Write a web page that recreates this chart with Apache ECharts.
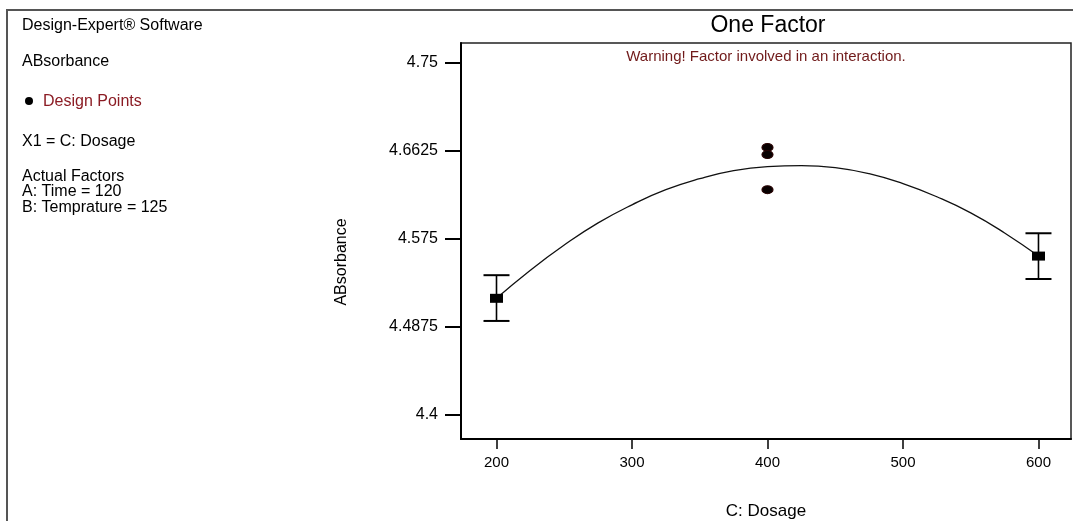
<!DOCTYPE html>
<html><head><meta charset="utf-8">
<script src="https://cdn.jsdelivr.net/npm/echarts@6/dist/echarts.min.js"></script>
<style>html,body{margin:0;padding:0;background:#fff}#c{width:1073px;height:521px}</style>
</head><body><div id="c"></div>
<script>
// Fitted model curve
const curveX = [200,225,250,275,300,325,350,375,400,425,450,475,500,525,550,575,600];
const curveY = [4.516,4.544,4.569,4.591,4.609,4.624,4.635,4.643,4.647,4.648,4.646,4.640,4.630,4.617,4.601,4.581,4.558];
// Design points at 400
const designX = [400,400,400];
const designY = [4.666,4.659,4.624];
// Mean squares and LSD bars
const meanX = [200,600];
const meanY = [4.516,4.558];
const barLow = [4.4935,4.5352];
const barHigh = [4.5390,4.5807];
// Ticks
const xTicks = [200,300,400,500,600];
const yTicks = [4.4,4.4875,4.575,4.6625,4.75];
const yTickLabels = ['4.4','4.4875','4.575','4.6625','4.75'];

const FONT = '"Liberation Sans", Arial, sans-serif';
const chart = echarts.init(document.getElementById('c'), null, {renderer:'canvas'});

function leftText(txt, y, color, x) {
  return {type:'text', x: x||22, y: y, style:{text:txt, fill: color||'#000', font:'16px ' + FONT, verticalAlign:'middle', align:'left'}};
}

const option = {
  animation:false,
  backgroundColor:'#fff',
  grid:{left:461, right:2, top:43, bottom:82, containLabel:false, outerBoundsMode:'none',
        show:true, borderColor:'#222', borderWidth:1.5, backgroundColor:'transparent'},
  xAxis:{
    type:'value', min:173.8, max:624,
    name:'C: Dosage', nameLocation:'middle', nameGap:64,
    nameTextStyle:{fontFamily:FONT, fontSize:17, color:'#000'},
    axisLine:{show:true, onZero:false, lineStyle:{color:'#000', width:2}},
    axisTick:{show:true, customValues:xTicks, length:10, lineStyle:{color:'#000', width:1.5}},
    axisLabel:{customValues:xTicks, margin:16, fontFamily:FONT, fontSize:15, color:'#000'},
    splitLine:{show:false}
  },
  yAxis:{
    type:'value', min:4.3761, max:4.7699,
    axisLine:{show:true, onZero:false, lineStyle:{color:'#000', width:2}},
    axisTick:{show:true, customValues:yTicks, length:16, lineStyle:{color:'#000', width:2}},
    axisLabel:{customValues:yTicks, margin:23, fontFamily:FONT, fontSize:16, color:'#000',
      formatter:function(v){const i=yTicks.findIndex(t=>Math.abs(t-v)<1e-6);return i>=0?yTickLabels[i]:'';}},
    splitLine:{show:false}
  },
  series:[
    {type:'line', smooth:true, showSymbol:false, symbol:'none', data:curveX.map((x,i)=>[x,curveY[i]]),
     lineStyle:{color:'#111', width:1.3}, z:2},
    {type:'custom', data:meanX.map((x,i)=>[x,barLow[i],barHigh[i]]), z:3,
     renderItem:function(params, api){
       const x=api.value(0), lo=api.value(1), hi=api.value(2);
       const pH=api.coord([x,hi]), pL=api.coord([x,lo]);
       const hw=13;
       return {type:'group', children:[
         {type:'line', shape:{x1:pH[0],y1:pH[1],x2:pL[0],y2:pL[1]}, style:{stroke:'#000', lineWidth:1.6}},
         {type:'line', shape:{x1:pH[0]-hw,y1:pH[1],x2:pH[0]+hw,y2:pH[1]}, style:{stroke:'#000', lineWidth:2}},
         {type:'line', shape:{x1:pL[0]-hw,y1:pL[1],x2:pL[0]+hw,y2:pL[1]}, style:{stroke:'#000', lineWidth:2}}
       ]};
     }},
    {type:'scatter', data:meanX.map((x,i)=>[x,meanY[i]]), symbol:'rect', symbolSize:[13,9],
     itemStyle:{color:'#000', opacity:1}, z:4},
    {type:'scatter', data:designX.map((x,i)=>[x,designY[i]]), symbol:'circle', symbolSize:[11,8],
     itemStyle:{color:'#080000', borderColor:'#260000', borderWidth:1, opacity:1}, z:5}
  ],
  graphic:[
    {type:'line', shape:{x1:7,y1:10,x2:7,y2:521}, style:{stroke:'#555', lineWidth:2}},
    {type:'line', shape:{x1:6,y1:10,x2:1073,y2:10}, style:{stroke:'#555', lineWidth:2}},
    leftText('Design-Expert\u00AE Software', 26),
    leftText('ABsorbance', 62),
    {type:'circle', shape:{cx:29, cy:101, r:4}, style:{fill:'#000'}},
    leftText('Design Points', 102, '#8b1c24', 43),
    leftText('X1 = C: Dosage', 142),
    leftText('Actual Factors', 177),
    leftText('A: Time = 120', 192),
    leftText('B: Temprature = 125', 208),
    {type:'text', x:768, y:26, style:{text:'One Factor', fill:'#000', font:'23px ' + FONT, align:'center', verticalAlign:'middle'}},
    {type:'text', x:766, y:57, style:{text:'Warning! Factor involved in an interaction.', fill:'#701a1a', font:'15px ' + FONT, align:'center', verticalAlign:'middle'}},
    {type:'text', x:342, y:262, rotation:Math.PI/2, style:{text:'ABsorbance', fill:'#000', font:'16px ' + FONT, align:'center', verticalAlign:'middle'}}
  ]
};
chart.setOption(option);
</script>
</body></html>
